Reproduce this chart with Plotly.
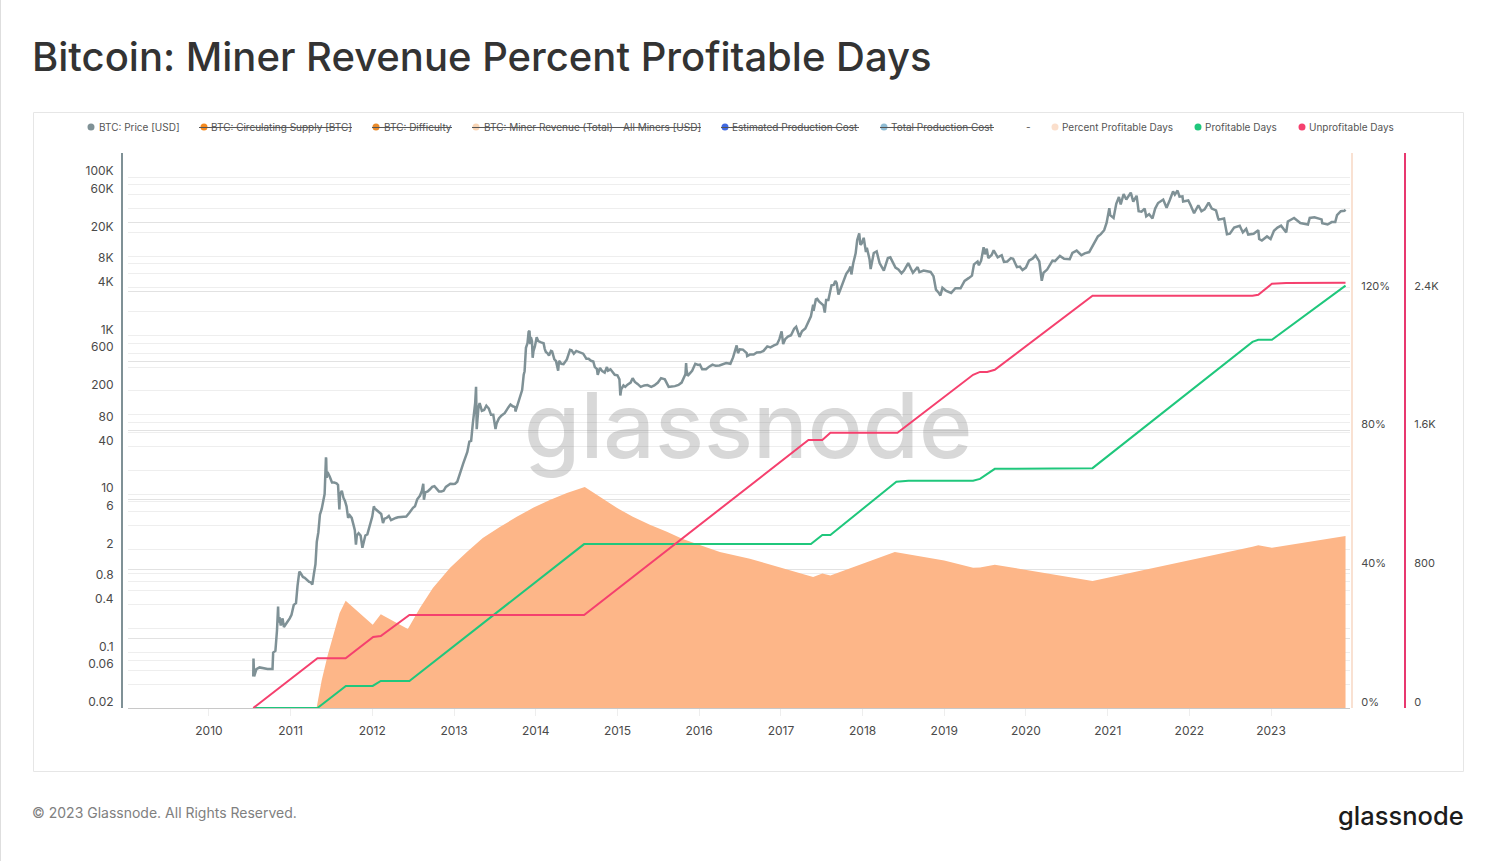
import plotly.graph_objects as go

W, H = 1495, 861

price_dates = [
"2010-07-18","2010-07-19","2010-07-22","2010-07-26","2010-08-01","2010-08-15","2010-09-01","2010-09-20","2010-10-05","2010-10-12",
"2010-10-15","2010-10-25","2010-11-01","2010-11-06","2010-11-08","2010-11-12","2010-11-18","2010-11-26","2010-12-02","2010-12-10",
"2010-12-20","2010-12-28","2011-01-05","2011-01-15","2011-01-25","2011-02-01","2011-02-09","2011-02-15","2011-02-25","2011-03-05",
"2011-03-15","2011-03-25","2011-04-01","2011-04-08","2011-04-15","2011-04-22","2011-04-28","2011-05-05","2011-05-12","2011-05-20",
"2011-05-28","2011-06-02","2011-06-08","2011-06-09","2011-06-11","2011-06-15","2011-06-25","2011-07-05","2011-07-15","2011-07-25",
"2011-08-01","2011-08-06","2011-08-07","2011-08-10","2011-08-18","2011-08-25","2011-09-01","2011-09-08","2011-09-15","2011-09-22",
"2011-10-01","2011-10-10","2011-10-15","2011-10-20","2011-10-24","2011-11-01","2011-11-10","2011-11-18","2011-11-21","2011-12-01",
"2011-12-10","2011-12-20","2012-01-01","2012-01-08","2012-01-12","2012-01-20","2012-02-01","2012-02-10","2012-02-18","2012-02-25",
"2012-03-05","2012-03-15","2012-03-25","2012-04-05","2012-04-15","2012-04-25","2012-05-05","2012-05-20","2012-06-01","2012-06-15",
"2012-07-01","2012-07-10","2012-07-20","2012-08-01","2012-08-10","2012-08-16","2012-08-19","2012-08-25","2012-09-05","2012-09-15",
"2012-09-25","2012-10-05","2012-10-15","2012-10-25","2012-11-05","2012-11-15","2012-11-25","2012-12-05","2012-12-15","2012-12-28",
"2013-01-05","2013-01-15","2013-01-25","2013-02-01","2013-02-10","2013-02-20","2013-03-01","2013-03-10","2013-03-18","2013-03-25",
"2013-04-01","2013-04-05","2013-04-09","2013-04-12","2013-04-15","2013-04-20","2013-04-25","2013-05-05","2013-05-15","2013-05-25",
"2013-06-05","2013-06-15","2013-06-25","2013-07-05","2013-07-10","2013-07-20","2013-08-01","2013-08-15","2013-09-01","2013-09-10",
"2013-09-20","2013-10-01","2013-10-02","2013-10-15","2013-10-25","2013-11-01","2013-11-08","2013-11-12","2013-11-18","2013-11-22",
"2013-11-25","2013-11-30","2013-12-04","2013-12-07","2013-12-10","2013-12-15","2013-12-18","2013-12-22","2013-12-28","2014-01-05",
"2014-01-12","2014-01-25","2014-02-05","2014-02-10","2014-02-15","2014-02-22","2014-03-01","2014-03-10","2014-03-15","2014-03-25",
"2014-04-01","2014-04-11","2014-04-15","2014-04-25","2014-05-05","2014-05-20","2014-05-28","2014-06-03","2014-06-10","2014-06-20",
"2014-07-01","2014-07-15","2014-08-01","2014-08-15","2014-08-25","2014-09-05","2014-09-15","2014-09-22","2014-10-01","2014-10-05",
"2014-10-15","2014-10-25","2014-11-05","2014-11-15","2014-11-20","2014-12-01","2014-12-10","2014-12-20","2015-01-01","2015-01-10",
"2015-01-14","2015-01-18","2015-01-28","2015-02-05","2015-02-15","2015-03-01","2015-03-10","2015-03-20","2015-04-01","2015-04-15",
"2015-05-01","2015-05-15","2015-06-01","2015-06-15","2015-07-01","2015-07-10","2015-07-15","2015-08-01","2015-08-18","2015-09-01",
"2015-09-15","2015-10-01","2015-10-15","2015-11-01","2015-11-04","2015-11-06","2015-11-11","2015-12-01","2015-12-15","2015-12-28",
"2016-01-05","2016-01-15","2016-02-01","2016-02-15","2016-03-01","2016-03-15","2016-04-01","2016-05-01","2016-05-20","2016-06-01",
"2016-06-12","2016-06-17","2016-06-23","2016-07-01","2016-07-15","2016-08-01","2016-08-03","2016-08-15","2016-09-01","2016-09-15",
"2016-10-01","2016-10-15","2016-11-01","2016-11-15","2016-12-01","2016-12-15","2016-12-25","2017-01-04","2017-01-11","2017-01-20",
"2017-02-01","2017-02-15","2017-03-01","2017-03-10","2017-03-25","2017-04-05","2017-04-20","2017-05-01","2017-05-15","2017-05-25",
"2017-05-27","2017-06-06","2017-06-12","2017-06-20","2017-07-01","2017-07-10","2017-07-16","2017-07-22","2017-08-01","2017-08-08",
"2017-08-15","2017-08-25","2017-09-01","2017-09-07","2017-09-15","2017-09-22","2017-10-01","2017-10-12","2017-10-20","2017-11-01",
"2017-11-08","2017-11-12","2017-11-20","2017-12-01","2017-12-08","2017-12-17","2017-12-22","2017-12-28","2018-01-06","2018-01-16",
"2018-01-20","2018-02-01","2018-02-06","2018-02-20","2018-03-05","2018-03-18","2018-04-01","2018-04-06","2018-04-24","2018-05-05",
"2018-05-28","2018-06-10","2018-06-24","2018-07-05","2018-07-24","2018-08-14","2018-09-04","2018-09-12","2018-10-01","2018-10-15",
"2018-11-01","2018-11-14","2018-11-20","2018-11-25","2018-12-06","2018-12-15","2018-12-24","2019-01-10","2019-02-01","2019-02-20",
"2019-03-15","2019-04-02","2019-04-20","2019-05-05","2019-05-14","2019-05-30","2019-06-05","2019-06-15","2019-06-26","2019-07-02",
"2019-07-10","2019-07-17","2019-08-01","2019-08-10","2019-08-28","2019-09-15","2019-09-25","2019-10-10","2019-10-26","2019-11-05",
"2019-11-22","2019-12-05","2019-12-17","2020-01-01","2020-01-15","2020-02-01","2020-02-13","2020-03-01","2020-03-12","2020-03-20",
"2020-04-05","2020-04-29","2020-05-10","2020-06-01","2020-06-20","2020-07-15","2020-07-27","2020-08-15","2020-09-05","2020-09-20",
"2020-10-10","2020-10-22","2020-11-05","2020-11-18","2020-12-01","2020-12-16","2020-12-27","2021-01-08","2021-01-12","2021-01-27",
"2021-02-08","2021-02-20","2021-02-28","2021-03-13","2021-03-25","2021-04-14","2021-04-25","2021-05-10","2021-05-19","2021-06-01",
"2021-06-15","2021-06-22","2021-07-05","2021-07-20","2021-08-01","2021-08-14","2021-09-06","2021-09-21","2021-10-05","2021-10-20",
"2021-10-28","2021-11-09","2021-11-18","2021-12-01","2021-12-04","2021-12-27","2022-01-05","2022-01-22","2022-02-10","2022-02-24",
"2022-03-10","2022-03-28","2022-04-11","2022-04-30","2022-05-09","2022-05-12","2022-06-05","2022-06-13","2022-06-18","2022-07-01",
"2022-07-20","2022-08-14","2022-08-28","2022-09-12","2022-09-21","2022-10-15","2022-11-05","2022-11-09","2022-11-21","2022-12-14",
"2022-12-30","2023-01-14","2023-01-30","2023-02-15","2023-03-10","2023-03-17","2023-04-14","2023-05-12","2023-06-15","2023-06-23",
"2023-07-14","2023-08-15","2023-08-18","2023-09-11","2023-09-29","2023-10-15","2023-10-23","2023-11-09","2023-11-25","2023-11-30",
]
price_usd = [
0.05,0.084,0.05,0.055,0.062,0.065,0.063,0.062,0.062,0.062,
0.10,0.105,0.19,0.38,0.24,0.28,0.22,0.27,0.21,0.23,
0.25,0.27,0.30,0.40,0.42,0.70,1.05,1.0,0.90,0.88,
0.82,0.78,0.77,0.72,0.98,1.3,2.5,3.3,5.5,6.5,
8.5,10,29,28,16,19,16.5,14,14,13.7,
13,8.0,6.4,10,11,9,8.2,7.0,5,5.4,
5,4,3.5,2.3,3,3.2,3,2.1,2.3,3,
3.1,3.9,5.2,7,6.6,6.3,5.9,5.6,4.3,4.9,
5,5.3,4.7,4.9,5,5.1,5.1,5.1,5.2,5.8,
6.7,7,8.6,9.5,11,13.5,8.5,10.5,10.8,11.5,
12.3,12.6,11.8,10.8,10.8,11,12.3,13,13.5,13.4,
13.5,14.3,17,20,24,29,34,46,47,75,
105,140,226,66,85,125,140,112,115,130,
120,100,100,66,78,90,98,105,125,135,
128,125,110,145,185,205,320,355,700,780,
800,1118,1150,780,960,850,525,640,730,950,
850,820,800,680,620,600,560,640,630,500,
480,360,480,440,435,500,590,660,650,590,
640,620,590,510,510,480,470,400,380,320,
390,355,340,400,360,375,350,320,315,280,
175,210,235,225,240,255,290,260,245,225,
235,237,225,235,255,285,290,280,225,228,
230,238,255,325,450,370,310,360,440,425,
430,375,375,405,430,415,420,450,440,530,
680,750,600,670,665,600,550,575,575,610,
615,640,730,710,750,780,900,1130,780,900,
970,1010,1220,1290,960,1130,1230,1420,1750,2450,
2050,2850,2900,2700,2500,2400,1950,2800,2800,3400,
4300,4350,4900,4600,3300,3700,4400,5400,6000,6700,
7400,5900,8100,10900,16000,19400,14000,14500,17100,11300,
12800,9200,6900,11000,11500,8200,6800,6600,9500,9700,
7200,6800,6100,6600,8200,6200,7300,6300,6600,6450,
6350,5600,4500,3800,3500,3200,4000,3650,3450,3950,
3950,4900,5300,5700,7900,8600,7700,8800,13000,10600,
12500,9500,10400,11900,9700,10300,8500,8600,9500,9300,
7300,7400,6700,7200,8800,9400,10300,8600,4900,6200,
6800,8800,8700,10100,9300,9200,11000,11800,10300,10900,
11300,12900,15500,17800,19000,21300,26500,40500,33000,30400,
46000,56000,45200,61000,52000,63500,49000,58000,37000,36500,
40000,32000,34000,30000,40000,47000,52000,41000,51000,65900,
60000,67500,56500,57000,49000,50500,45000,35000,44000,37000,
39000,47500,40000,38000,30500,29000,30000,22500,19000,19300,
23000,24300,20000,22200,18800,19200,21300,16500,15800,17800,
16500,21000,23000,24300,20000,27500,30400,26300,25200,30500,
31000,29200,26200,25200,27000,27000,33000,37000,37500,38800,
]

percent_dates = [
"2011-04-27","2011-05-20","2011-06-16","2011-07-17","2011-08-08","2011-09-04","2012-01-03","2012-02-08","2012-06-08","2012-08-01",
"2012-09-28","2012-12-14","2013-02-27","2013-05-09","2013-07-24","2013-10-08","2013-12-20","2014-03-05","2014-05-20","2014-08-08",
"2014-10-14","2014-12-29","2015-03-11","2015-05-26","2015-08-10","2015-10-20","2016-01-04","2016-04-03","2016-08-15","2017-01-01",
"2017-05-25","2017-07-05","2017-08-10","2018-05-25","2019-01-01","2019-05-10","2019-06-10","2019-08-15","2020-10-25","2022-10-10",
"2022-11-05","2023-01-05","2023-11-30",
]
percent_profitable = [
0,8,15.3,22.5,27.4,30.9,24,27,22.8,28.8,
34.6,40.4,45,49,52.2,55.1,57.7,60,62,63.7,
60.9,57.7,55.1,52.8,50.8,48.7,47,45,43,40.4,
37.8,38.8,38.2,45,42.5,40.4,40.5,41.3,36.6,46.5,
46.9,46.2,49.6,
]

red_dates = [
"2010-07-18","2011-05-01","2011-09-04","2012-01-05","2012-02-08","2012-06-15","2014-08-05","2017-05-04","2017-07-05","2017-08-10",
"2018-06-06","2019-05-10","2019-06-10","2019-07-12","2019-08-15","2020-10-25","2022-10-10","2022-11-05","2023-01-05","2023-03-10","2023-11-30",
]
unprofitable_days = [
0,287,287,410,415,536,536,1545,1545,1587,
1587,1921,1938,1938,1950,2377,2377,2383,2446,2450,2452,
]
green_dates = [
"2010-07-18","2011-05-01","2011-09-05","2012-01-03","2012-02-08","2012-06-15","2014-08-05","2017-05-15","2017-07-05","2017-08-10",
"2018-06-01","2018-07-25","2019-05-10","2019-06-10","2019-08-15","2020-07-28","2020-10-25","2022-10-10","2022-11-05","2023-01-05","2023-11-30",
]
profitable_days = [
0,0,127,127,156,156,945,945,998,998,
1304,1310,1310,1321,1379,1381,1383,2111,2123,2123,2435,
]

price_tick_vals = [100000,80000,60000,40000,20000,10000,8000,6000,4000,2000,1000,800,600,400,200,100,80,60,40,20,10,8,6,4,2,1,0.8,0.6,0.4,0.2,0.1,0.08,0.06,0.04,0.02]
price_tick_text = ["100K","","60K","","20K","","8K","","4K","","1K","","600","","200","","80","","40","","10","","6","","2","","0.8","","0.4","","0.1","","0.06","","0.02"]
percent_tick_vals = [0,20,40,60,80,100,120,140,160]
percent_tick_text = ["0%","","40%","","80%","","120%","",""]
days_tick_vals = [0,800,1600,2400]
days_tick_text = ["0","800","1.6K","2.4K"]

legend_labels = ["BTC: Price [USD]","BTC: Circulating Supply [BTC]","BTC: Difficulty","BTC: Miner Revenue (Total) - All Miners [USD]","Estimated Production Cost","Total Production Cost","-","Percent Profitable Days","Profitable Days","Unprofitable Days"]
legend_colors = ["#7f9196","#f58a1f","#e88a2a","#f8d5b5","#4169e1","#8fbcd4",None,"#fbdfcc","#1fc77c","#f5406e"]
legend_dot_x = [91,204,376,476,725,884,None,1055,1198,1302]
legend_text_x = [97,209,382,482,730,889,1024,1060,1203,1307]
legend_strike = [None,(199,352),(372,452),(472,701),(721,859),(880,994),None,None,None,None]

FONT = "Inter"
GREY = "#7f9196"; RED = "#f5406e"; GREEN = "#1fc77c"; ORANGE = "#fdb688"; PEACH = "#f9e1d2"; RED_AXIS = "#e8386f"

def px(x): return x / W
def py(y): return 1 - y / H

fig = go.Figure()
fig.add_trace(go.Scatter(x=["2016-08-08"], y=[56], mode="text", text=["glassnode"], textposition="middle center",
                         textfont=dict(family=FONT, size=91, weight=500, color="rgba(110,110,110,0.27)"), yaxis="y", hoverinfo="skip"))
fig.add_trace(go.Scatter(x=price_dates, y=price_usd, mode="lines", line=dict(color=GREY, width=2.5), yaxis="y", name="BTC: Price [USD]"))
fig.add_trace(go.Scatter(x=percent_dates, y=percent_profitable, mode="lines", line=dict(width=0, color=ORANGE), fill="tozeroy",
                         fillcolor=ORANGE, yaxis="y2", name="Percent Profitable Days"))
fig.add_trace(go.Scatter(x=green_dates, y=profitable_days, mode="lines", line=dict(color=GREEN, width=2), yaxis="y3", name="Profitable Days"))
fig.add_trace(go.Scatter(x=red_dates, y=unprofitable_days, mode="lines", line=dict(color=RED, width=2), yaxis="y3", name="Unprofitable Days"))

shapes = [
    dict(type="rect", xref="paper", yref="paper", x0=px(33.5), x1=px(1463.5), y0=py(771.5), y1=py(112.5), line=dict(color="#e6e6e6", width=1), layer="below"),
    dict(type="line", xref="paper", yref="paper", x0=px(0.5), x1=px(0.5), y0=0, y1=1, line=dict(color="#dedede", width=1)),
]
annotations = [
    dict(text="Bitcoin: Miner Revenue Percent Profitable Days", x=px(30), y=py(56), xanchor="left", yanchor="middle", showarrow=False,
         font=dict(family=FONT, size=40, weight=500, color="#333333"), xref="paper", yref="paper"),
    dict(text="© 2023 Glassnode. All Rights Reserved.", x=px(30), y=py(812), xanchor="left", yanchor="middle", showarrow=False,
         font=dict(family=FONT, size=14, color="#808080"), xref="paper", yref="paper"),
    dict(text="glassnode", x=px(1466), y=py(815), xanchor="right", yanchor="middle", showarrow=False,
         font=dict(family=FONT, size=25.5, weight=500, color="#1c1c1c"), xref="paper", yref="paper"),
]
for label, color, dot, tx, strike in zip(legend_labels, legend_colors, legend_dot_x, legend_text_x, legend_strike):
    annotations.append(dict(text=label, x=px(tx), y=py(127), xanchor="left", yanchor="middle", showarrow=False,
                            font=dict(family=FONT, size=10, color="#555555"), xref="paper", yref="paper"))
    if dot is not None:
        shapes.append(dict(type="circle", xref="paper", yref="paper", x0=px(dot-3.5), x1=px(dot+3.5), y0=py(127+3.5), y1=py(127-3.5),
                           fillcolor=color, line=dict(width=0)))
    if strike is not None:
        shapes.append(dict(type="line", xref="paper", yref="paper", x0=px(strike[0]), x1=px(strike[1]), y0=py(127.5), y1=py(127.5),
                           line=dict(color="#555555", width=1)))

tick_font = dict(family=FONT, size=12, color="#4a4a4a")
right_font = dict(family=FONT, size=11, color="#4a4a4a")
fig.update_layout(
    width=W, height=H, margin=dict(l=0, r=0, t=0, b=0), paper_bgcolor="white", plot_bgcolor="white",
    showlegend=False, hovermode=False, shapes=shapes, annotations=annotations,
    xaxis=dict(type="date", domain=[px(128), px(1350)], range=["2009-01-04", "2023-12-20"], dtick="M12", tick0="2010-01-01",
               tickformat="%Y", showgrid=False, ticks="outside", ticklen=7, tickcolor="#eeeeee", tickwidth=1, showline=True,
               linecolor="#c8c8c8", linewidth=1, tickfont=tick_font, zeroline=False, ticklabelstandoff=5),
    yaxis=dict(type="log", domain=[py(708), py(153)], range=[-1.699, 5.303], anchor="free", position=px(122), tickmode="array",
               tickvals=price_tick_vals, ticktext=price_tick_text, showgrid=True, gridcolor="#eeeeee", gridwidth=1, showline=True,
               linecolor=GREY, linewidth=2, tickfont=tick_font, ticks="", ticklabelshift=-6, ticklabelstandoff=5, zeroline=False),
    yaxis2=dict(domain=[py(708), py(153)], range=[0, 160], overlaying="y", side="right", anchor="free", position=px(1352), tickmode="array",
                tickvals=percent_tick_vals, ticktext=percent_tick_text, showgrid=True, gridcolor="#e2e2e2", gridwidth=1, showline=True,
                linecolor=PEACH, linewidth=2, tickfont=right_font, ticks="", ticklabelshift=-6, ticklabelstandoff=6, zeroline=False),
    yaxis3=dict(domain=[py(708), py(153)], range=[0, 3200], overlaying="y", side="right", anchor="free", position=px(1405), tickmode="array",
                tickvals=days_tick_vals, ticktext=days_tick_text, showgrid=False, showline=True,
                linecolor=RED_AXIS, linewidth=2, tickfont=right_font, ticks="", ticklabelshift=-6, ticklabelstandoff=6, zeroline=False),
)
assert len(price_dates) == len(price_usd) and len(percent_dates) == len(percent_profitable)
assert len(red_dates) == len(unprofitable_days) and len(green_dates) == len(profitable_days)
fig.write_html("out.html", post_script="document.body.style.margin='0';document.documentElement.style.overflow='hidden';", config={"displayModeBar": False})
